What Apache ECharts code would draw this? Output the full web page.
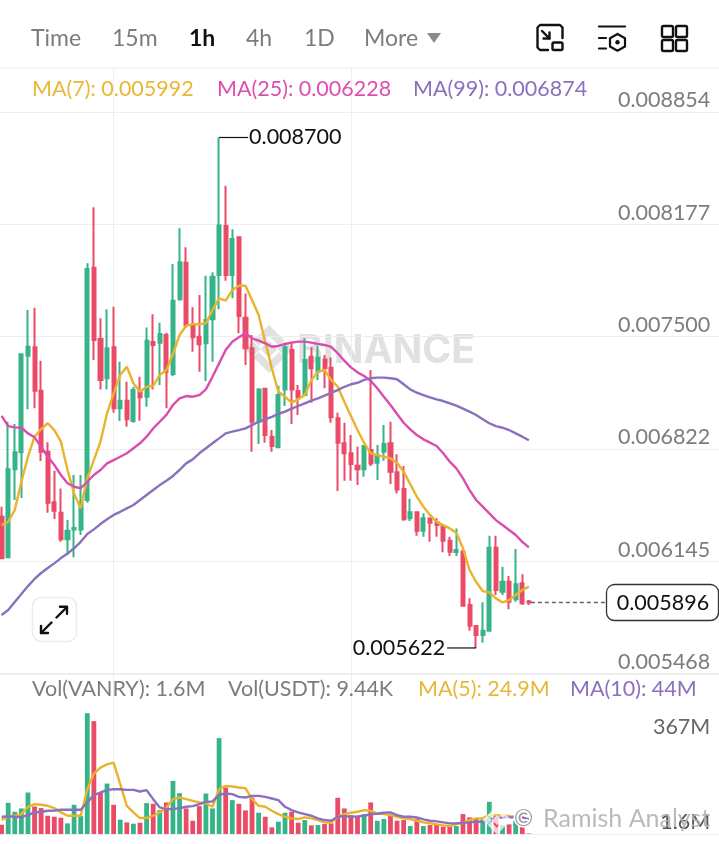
<!DOCTYPE html>
<html>
<head>
<meta charset="utf-8">
<style>html,body{margin:0;padding:0;background:#fff}#c{width:719px;height:844px}</style>
<script src="https://cdn.jsdelivr.net/npm/echarts@6/dist/echarts.min.js"></script>
</head>
<body>
<div id="c"></div>
<script>
// prices are in millionths of USDT (8700 = 0.008700)
const opens  = [6413,6169,6699,6802,7384,7435,7173,6805,6500,6437,6277,6337,6337,6514,7915,7485,7248,7435,7067,7113,6990,7173,7137,7467,7463,7509,7274,7724,7945,7563,7499,7459,7604,7871,8166,7871,8098,7613,7429,6986,7185,6896,6832,7181,7419,7171,7147,7378,7288,7362,7312,7007,6856,6796,6721,6699,6816,6739,6805,6856,6681,6580,6404,6440,6329,6402,6380,6357,6269,6200,6202,5881,5754,5700,5726,6226,5961,6021,5915,6012,5902];
const closes = [6163,6699,6802,7393,7438,7173,6805,6498,6449,6277,6329,6345,6498,7907,7479,7238,7429,7067,7113,7001,7177,7133,7475,7449,7515,7288,7716,7947,7569,7495,7453,7599,7860,8170,7871,8088,7623,7429,6986,7181,6906,6840,7147,7435,7181,7133,7358,7308,7372,7308,7013,6860,6796,6731,6699,6840,6735,6785,6852,6685,6578,6398,6440,6329,6404,6377,6363,6269,6202,6212,5877,5756,5700,5726,6226,5971,6021,5901,6006,5891,5896];
const lows   = [6163,6169,6514,6526,7061,7067,6749,6437,6399,6262,6182,6169,6303,6498,7358,7181,7181,7040,6990,6956,6980,6992,7077,7181,7207,7067,7262,7716,7551,7408,7288,7232,7348,7664,7836,7730,7519,7328,6805,6852,6860,6805,6832,7081,6972,7027,7147,7101,7238,7188,6980,6568,6630,6630,6604,6654,6719,6635,6751,6610,6554,6389,6387,6299,6293,6262,6293,6199,6176,6176,5871,5726,5622,5654,5720,5941,5941,5855,5901,5881,5881];
const highs  = [6474,6986,6972,7394,7660,7674,7354,6862,6691,6584,6393,6665,6665,7941,8279,7610,7664,7680,7348,7227,7197,7257,7555,7634,7583,7523,7937,8152,8038,7676,7750,7867,7887,8700,8409,8146,8102,7760,7509,7188,7188,6936,7203,7449,7469,7207,7489,7435,7443,7388,7374,7040,6980,6906,6835,6840,7298,6846,6966,6986,6790,6719,6522,6440,6434,6404,6404,6367,6293,6343,6212,5921,5760,5897,6299,6299,6112,6056,6218,6066,5911];
const ma7  = [6363,6383,6454,6624,6775,6896,6942,6977,6936,6866,6695,6554,6464,6645,6755,6866,7037,7157,7268,7318,7218,7167,7197,7203,7268,7298,7394,7509,7565,7574,7574,7580,7660,7730,7716,7780,7806,7806,7720,7630,7469,7308,7167,7137,7101,7121,7147,7238,7288,7298,7238,7197,7107,7021,6936,6858,6796,6785,6775,6765,6739,6685,6610,6534,6474,6424,6383,6363,6343,6317,6223,6092,6020,5965,5957,5921,5897,5911,5941,5971,5992];
const ma25 = [7021,6960,6952,6950,6916,6892,6835,6775,6725,6665,6615,6594,6585,6624,6665,6695,6735,6755,6775,6796,6826,6856,6896,6946,6986,7027,7087,7127,7141,7137,7147,7181,7257,7338,7419,7469,7495,7519,7489,7475,7459,7438,7443,7455,7463,7469,7469,7463,7455,7449,7438,7399,7354,7314,7284,7262,7233,7188,7137,7087,7033,6980,6940,6906,6880,6860,6840,6796,6745,6705,6645,6574,6514,6474,6434,6393,6363,6333,6303,6262,6228];
const ma99 = [5821,5851,5899,5947,5995,6038,6074,6104,6132,6164,6191,6223,6262,6309,6337,6369,6398,6424,6443,6464,6484,6514,6544,6574,6604,6630,6659,6695,6735,6759,6796,6826,6856,6886,6916,6926,6936,6946,6966,6986,7001,7016,7033,7047,7065,7081,7097,7113,7127,7143,7161,7177,7197,7212,7221,7238,7248,7252,7252,7248,7242,7212,7181,7161,7147,7133,7121,7111,7097,7083,7065,7047,7027,7001,6977,6960,6950,6936,6916,6896,6874];
// volume in millions
const volumes = [28,94,67,77,125,83,78,55,52,49,32,88,55,364,340,125,152,88,43,35,31,34,93,91,72,95,160,123,77,40,84,122,77,289,140,102,91,71,110,64,52,20,37,64,67,34,42,26,27,30,32,109,77,57,55,60,95,40,45,57,40,42,24,47,24,27,30,22,22,24,60,50,47,44,97,57,27,29,40,22,1.6];
const volMa5  = [42,53,55,60,82,90,88,85,78,65,55,55,55,135,182,200,210,215,150,85,65,48,48,55,65,80,105,110,105,100,95,92,82,135,145,143,140,138,105,85,82,70,60,52,47,45,50,47,42,35,34,52,60,64,67,72,70,62,60,57,52,47,45,40,35,32,29,26,24,30,34,42,47,47,57,57,57,54,52,37,25];
const volMa10 = [52,53,52,50,58,64,67,70,71,73,73,73,73,95,117,125,132,135,135,133,133,128,132,105,80,75,75,78,82,84,90,97,98,118,122,120,112,110,115,115,112,107,102,82,72,65,60,55,47,42,40,52,54,52,53,55,60,61,64,65,57,52,52,50,44,40,38,35,32,32,34,35,37,37,42,47,50,50,50,50,44];
const priceTicks = [5468,6145,6822,7500,8177,8854];
const extremes = [[33,8700,'0.008700','right'],[72,5622,'0.005622','left']];
const lastPrice = [[80,5896,'0.005896']];
const tabs = [['Time',31,false],['15m',112,false],['1h',189,true],['4h',246,false],['1D',304,false],['More',364,false]];
const priceLegend = [['MA(7): 0.005992',32,'#e9b736'],['MA(25): 0.006228',217,'#dc4fae'],['MA(99): 0.006874',413,'#8a70bd']];
const volLegend = [['Vol(VANRY): 1.6M',32,'#7c7c7c'],['Vol(USDT): 9.44K',228,'#7c7c7c'],['MA(5): 24.9M',418,'#e9b736'],['MA(10): 44M',570,'#8a70bd']];

const GREEN='#35b488', RED='#ea4b66', FONT='Lato, "Noto Sans", sans-serif', FS=21.5;
const TOTAL=110;
const cats=Array.from({length:TOTAL},(_,i)=>String(i));
const candleData=opens.map((o,i)=>[o,closes[i],lows[i],highs[i]]);
const volData=volumes.map((v,i)=>({value:v,itemStyle:{color:closes[i]>=opens[i]?GREEN:RED}}));
const fmtP=v=>(v/1e6).toFixed(6);
const grid_line='#eeeeee';
const vSplit=(i)=>i===17||i===53;

const txt=(s,x,y,color,size,weight,z)=>({type:'text',x,y,z:z||50,style:{text:s,fill:color,fontSize:size||FS,fontFamily:FONT,fontWeight:weight||400,verticalAlign:'middle'}});
const stroke=(pts,w)=>({type:'polyline',z:50,shape:{points:pts},style:{fill:'none',stroke:'#111',lineWidth:w||2.4,lineCap:'round',lineJoin:'round'}});
// logo outline, centred on (cx,cy) scaled by k
const logo=(cx,cy,k,fill,z,op)=>[
  [[0,-7],[7,0],[0,7],[-7,0]],
  [[-20,0],[-13.5,-6.5],[-7,0],[-13.5,6.5]],
  [[20,0],[13.5,-6.5],[7,0],[13.5,6.5]],
  [[0,-20],[13,-7],[8.5,-2.5],[0,-11],[-8.5,-2.5],[-13,-7]],
  [[0,20],[13,7],[8.5,2.5],[0,11],[-8.5,2.5],[-13,7]]
].map(pts=>({type:'polygon',z,shape:{points:pts.map(p=>[cx+p[0]*k,cy+p[1]*k])},style:{fill,opacity:op==null?1:op}}));

const graphics=[
  {type:'line',z:1,shape:{x1:0,y1:68,x2:719,y2:68},style:{stroke:grid_line,lineWidth:1}},
  ...logo(269,349,1.2,'#e1e1e1',0),
  {type:'text',z:0,x:297,y:351,style:{text:'BINANCE',fill:'#e1e1e1',fontSize:39,fontWeight:700,fontFamily:'Inter, sans-serif',verticalAlign:'middle'}},
  ...tabs.map(t=>txt(t[0],t[1],39,t[2]?'#111':'#7c7c7c',23,t[2]?700:400)),
  {type:'polygon',z:50,shape:{points:[[427,33],[441,33],[434,43]]},style:{fill:'#8c8c8c'}},
  ...priceLegend.map(t=>txt(t[0],t[1],89,t[2],FS)),
  ...volLegend.map(t=>txt(t[0],t[1],689,t[2],FS)),
  // toolbar icons
  stroke([[548,50],[540,50],[537.5,47.5],[537.5,27.5],[540,25],[560,25],[562.5,27.5],[562.5,38]]),
  {type:'rect',z:50,shape:{x:552.5,y:42.5,width:10,height:7.5,r:1.5},style:{fill:'none',stroke:'#111',lineWidth:2.4}},
  stroke([[542,31],[549.5,38.5]]),stroke([[549.5,32.5],[549.5,38.5],[543.5,38.5]]),
  stroke([[599,26.5],[625,26.5]],2.2),stroke([[599,38],[606,38]],2.2),stroke([[599,48.5],[606,48.5]],2.2),
  stroke([[617.5,34],[625,38.2],[625,46.5],[617.5,50.7],[610,46.5],[610,38.2],[617.5,34]],2.2),
  {type:'circle',z:50,shape:{cx:617.5,cy:42.3,r:2.2},style:{fill:'#111'}},
  ...[[662,26],[676,26],[662,40],[676,40]].map(p=>({type:'rect',z:50,shape:{x:p[0],y:p[1],width:11,height:11,r:1.5},style:{fill:'none',stroke:'#111',lineWidth:2.4}})),
  // expand button
  {type:'rect',z:40,shape:{x:32.5,y:597.5,width:44,height:44,r:9},style:{fill:'#fff',stroke:'#ececec',lineWidth:1.5}},
  stroke([[56.5,617.5],[67,607]]),stroke([[60,606.8],[67,606.8],[67,613.8]]),
  stroke([[51.5,622.5],[41,633]]),stroke([[48,633],[41,633],[41,626]]),
  // author watermark
  ...logo(497,820,.72,'#fff',60,.72),
  {type:'text',z:60,x:514,y:819,style:{text:'©',fill:'#9a9aa5',fontSize:23,fontFamily:FONT,stroke:'#fff',lineWidth:3,verticalAlign:'middle'}},
  {type:'text',z:60,x:543,y:819,style:{text:'Ramish Analyst',fill:'#b3b3b3',fontSize:25,fontFamily:FONT,opacity:.9,verticalAlign:'middle'}}
];

const axisX=(gridIndex,lineShow)=>({type:'category',gridIndex,data:cats,boundaryGap:true,axisLabel:{show:false},axisTick:{show:false},
  axisLine:{show:lineShow,lineStyle:{color:grid_line,width:1}},
  splitLine:{show:true,alignWithLabel:true,interval:vSplit,lineStyle:{color:grid_line,width:1}}});
const lineSeries=(name,data,color,xi,yi,w)=>({type:'line',name,data,xAxisIndex:xi,yAxisIndex:yi,showSymbol:false,symbol:'none',smooth:false,silent:true,lineStyle:{color,width:w||2.4},z:5,animation:false});

const option={
  animation:false,backgroundColor:'#fff',
  textStyle:{fontFamily:FONT},
  graphic:{elements:graphics},
  grid:[
    {left:-1.7,width:725,top:68,height:606,outerBoundsMode:'none'},
    {left:-1.7,width:725,top:674,height:160,outerBoundsMode:'none'}
  ],
  xAxis:[axisX(0,true),axisX(1,true)],
  yAxis:[
    {type:'value',gridIndex:0,position:'right',min:5465,max:9119,scale:true,axisLine:{show:false},
     axisTick:{show:false,customValues:priceTicks},splitLine:{show:true,lineStyle:{color:grid_line,width:1}},
     axisLabel:{inside:true,margin:13,customValues:priceTicks,formatter:fmtP,color:'#7c7c7c',fontSize:FS,fontFamily:FONT,verticalAlign:'bottom',lineHeight:23}},
    {type:'value',gridIndex:1,position:'right',min:0,max:482,axisLine:{show:false},
     axisTick:{show:false,customValues:[1.6]},splitLine:{show:false},
     axisLabel:{inside:true,margin:13,customValues:[1.6],formatter:v=>v+'M',color:'#555',fontSize:FS,fontFamily:FONT,verticalAlign:'bottom',lineHeight:23}},
    {type:'value',gridIndex:1,position:'right',min:0,max:482,axisLine:{show:false},
     axisTick:{show:false,customValues:[367]},splitLine:{show:false},
     axisLabel:{inside:true,margin:13,customValues:[367],formatter:v=>v+'M',color:'#666',fontSize:FS,fontFamily:FONT,verticalAlign:'top',lineHeight:29}}
  ],
  series:[
    {type:'candlestick',name:'Price',data:candleData,xAxisIndex:0,yAxisIndex:0,barWidth:3.6,z:3,silent:true,animation:false,
     itemStyle:{color:GREEN,color0:RED,borderColor:GREEN,borderColor0:RED,borderWidth:2}},
    lineSeries('MA(7)',ma7,'#e9b42c',0,0),
    lineSeries('MA(25)',ma25,'#d94db0',0,0),
    lineSeries('MA(99)',ma99,'#8a70bd',0,0),
    {type:'custom',name:'Extremes',xAxisIndex:0,yAxisIndex:0,data:extremes,z:8,silent:true,clip:false,animation:false,
     encode:{x:0,y:1},
     renderItem:(params,api)=>{
       const p=api.coord([api.value(0),api.value(1)]);
       const right=extremes[params.dataIndex][3]==='right';
       const s=extremes[params.dataIndex][2];
       return {type:'group',children:[
         {type:'line',shape:{x1:p[0],y1:p[1],x2:p[0]+(right?29:-29),y2:p[1]},style:{stroke:'#111',lineWidth:1.2}},
         {type:'text',x:p[0]+(right?30:-31),y:p[1],style:{text:s,fill:'#111',fontSize:FS,fontFamily:FONT,align:right?'left':'right',verticalAlign:'middle'}}
       ]};
     }},
    {type:'custom',name:'Last',xAxisIndex:0,yAxisIndex:0,data:lastPrice,z:8,silent:true,clip:false,animation:false,
     encode:{x:0,y:1},
     renderItem:(params,api)=>{
       const p=api.coord([api.value(0),api.value(1)]);
       return {type:'group',children:[
         {type:'line',shape:{x1:p[0]+2,y1:p[1],x2:606.5,y2:p[1]},style:{stroke:'#666',lineWidth:1.3,lineDash:[4,3]}},
         {type:'rect',shape:{x:606.5,y:p[1]-18,width:112,height:36,r:8},style:{fill:'#fff',stroke:'#333',lineWidth:1.3}},
         {type:'text',x:663,y:p[1]+0.5,style:{text:lastPrice[0][2],fill:'#111',fontSize:FS,fontFamily:FONT,align:'center',verticalAlign:'middle'}}
       ]};
     }},
    {type:'bar',name:'Volume',data:volData,xAxisIndex:1,yAxisIndex:1,barWidth:4.8,z:3,silent:true,animation:false},
    lineSeries('Vol MA5',volMa5,'#e9b42c',1,1),
    lineSeries('Vol MA10',volMa10,'#8a70bd',1,1)
  ]
};
const chart=echarts.init(document.getElementById('c'),null,{renderer:'canvas',width:719,height:844});
chart.setOption(option);
</script>
</body>
</html>
